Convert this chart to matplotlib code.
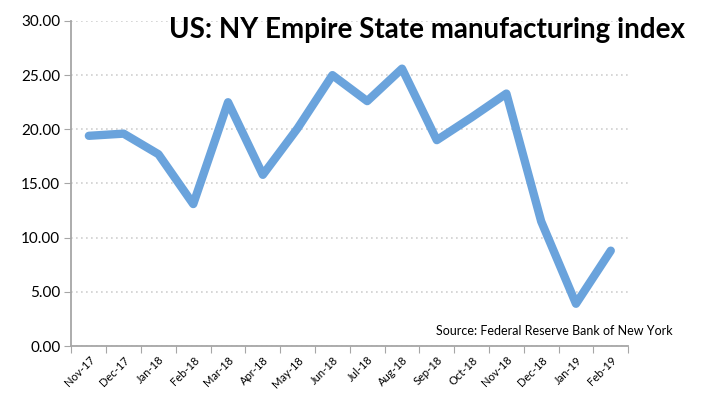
#!/usr/bin/env python3
"""
US: NY Empire State manufacturing index, Nov-17 to Feb-19.
"""

import matplotlib
matplotlib.use("Agg")
import matplotlib.pyplot as plt
import numpy as np

months = ["Nov-17", "Dec-17", "Jan-18", "Feb-18", "Mar-18", "Apr-18", "May-18",
          "Jun-18", "Jul-18", "Aug-18", "Sep-18", "Oct-18", "Nov-18", "Dec-18",
          "Jan-19", "Feb-19"]
index_values = [19.4, 19.6, 17.7, 13.1, 22.5, 15.8, 20.1, 25.0, 22.6, 25.6,
                19.0, 21.1, 23.3, 11.5, 3.9, 8.8]
y_ticks = [0, 5, 10, 15, 20, 25, 30]


def main():
    plt.rcParams['font.family'] = ['Lato', 'DejaVu Sans']

    fig = plt.figure(figsize=(7.09, 4.03), dpi=100)
    ax = fig.add_axes([0.1008, 0.1414, 0.7852, 0.8066])

    x = np.arange(len(months))
    ax.plot(x, index_values, color='#6aa3dc', lw=6, solid_joinstyle='round',
            solid_capstyle='round', zorder=3)

    ax.set_xlim(-0.5, len(months) - 0.5)
    ax.set_ylim(0, 30)
    ax.set_yticks(y_ticks)
    ax.set_yticklabels(["%.2f" % v for v in y_ticks], fontsize=11)
    ax.yaxis.grid(True, ls=(0, (1, 2)), color='#d0d0d0', lw=1.2)
    ax.set_axisbelow(True)

    # category boundaries get the ticks, labels sit in between
    ax.set_xticks(np.arange(len(months) + 1) - 0.5)
    ax.set_xticklabels([])
    ax.set_xticks(x, minor=True)
    ax.set_xticklabels(months, minor=True, rotation=45, ha='right',
                       rotation_mode='anchor', fontsize=8)
    ax.tick_params(axis='x', which='minor', length=0, pad=6)
    ax.tick_params(axis='x', which='major', length=5, color='#a6a6a6')
    ax.tick_params(axis='y', length=5, color='#a6a6a6', pad=3)

    for side in ('top', 'right'):
        ax.spines[side].set_visible(False)
    for side in ('left', 'bottom'):
        ax.spines[side].set_color('#a6a6a6')
        ax.spines[side].set_linewidth(1.3)

    fig.text(0.966, 0.925, "US: NY Empire State manufacturing index",
             ha='right', va='center', fontsize=20, fontweight='bold')
    fig.text(0.948, 0.178, "Source: Federal Reserve Bank of New York",
             ha='right', va='center', fontsize=9)

    fig.savefig("out.png", dpi=100)


if __name__ == '__main__':
    main()
